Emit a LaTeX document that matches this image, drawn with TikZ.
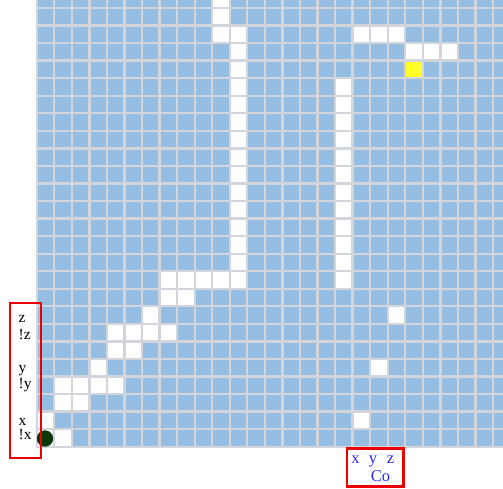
\documentclass[tikz,border=0pt]{standalone}
\usepackage{fontspec}
\setmainfont{Liberation Serif}
\definecolor{cellblue}{RGB}{150,189,226}
\definecolor{gridgray}{RGB}{210,214,220}
\definecolor{dotgreen}{RGB}{10,56,10}
\definecolor{labelblue}{RGB}{40,40,240}
\definecolor{hiyellow}{RGB}{255,255,40}
\definecolor{boxred}{RGB}{235,0,0}
\begin{document}
\begin{tikzpicture}[x=1pt,y=-1pt,
  cellbox/.style={draw=gridgray,line width=2.3pt},
  sidelabel/.style={font=\fontsize{15.5}{15.5}\selectfont,inner sep=0pt,anchor=base west},
  botlabel/.style={font=\fontsize{16.5}{16.5}\selectfont,inner sep=0pt,anchor=base,text=labelblue},
  redframe/.style={draw=boxred,line width=2.7pt}]
\useasboundingbox (0,0) rectangle (503,488);
\def\gx{36.7}\def\gy{446.7}\def\cs{17.55}
\begin{scope}
\clip (0,0) rectangle (503,488);
% base blue grid
\foreach \c in {0,...,26}{
  \foreach \r in {0,...,25}{
    \path[cellbox,fill=cellblue] ({\gx+\cs*\c},{\gy-\cs*(\r+1)}) rectangle ++(\cs,\cs);
  }
}
% white path cells
\foreach \c/\r in {0/0,1/0,0/1,1/2,2/2,1/3,2/3,3/3,4/3,3/4,4/5,5/5,4/6,5/6,6/6,7/6,6/7,7/8,8/8,
  7/9,8/9,9/9,10/9,11/9,11/10,11/11,11/12,11/13,11/14,11/15,11/16,11/17,11/18,11/19,11/20,11/21,11/22,11/23,
  10/23,10/24,10/25,
  17/9,17/10,17/11,17/12,17/13,17/14,17/15,17/16,17/17,17/18,17/19,17/20,
  18/23,19/23,20/23,21/22,22/22,23/22,20/7,19/4,18/1}{
  \path[cellbox,fill=white] ({\gx+\cs*\c},{\gy-\cs*(\r+1)}) rectangle ++(\cs,\cs);
}
% yellow cell
\path[cellbox,fill=hiyellow] ({\gx+\cs*21},{\gy-\cs*22}) rectangle ++(\cs,\cs);
\end{scope}
% start dot
\fill[dotgreen] (45,438.5) circle (8.2);
% left labels
\node[sidelabel] (lz)  at (18.5,322) {z};
\node[sidelabel] (lnz) at (18.5,339) {!z};
\node[sidelabel] (ly)  at (18.5,372) {y};
\node[sidelabel] (lny) at (18.5,388) {!y};
\node[sidelabel] (lx)  at (18.5,425) {x};
\node[sidelabel] (lnx) at (18.5,439.5) {!x};
\draw[redframe] (10,303) rectangle (41,458);
% bottom labels
\node[botlabel] (bx) at (355.5,463) {x};
\node[botlabel] (by) at (373,463) {y};
\node[botlabel] (bz) at (390.5,463) {z};
\node[botlabel] (bco) at (380.5,481.5) {Co};
\draw[redframe] (347,448.5) rectangle (403.5,486.5);
\end{tikzpicture}
\end{document}
